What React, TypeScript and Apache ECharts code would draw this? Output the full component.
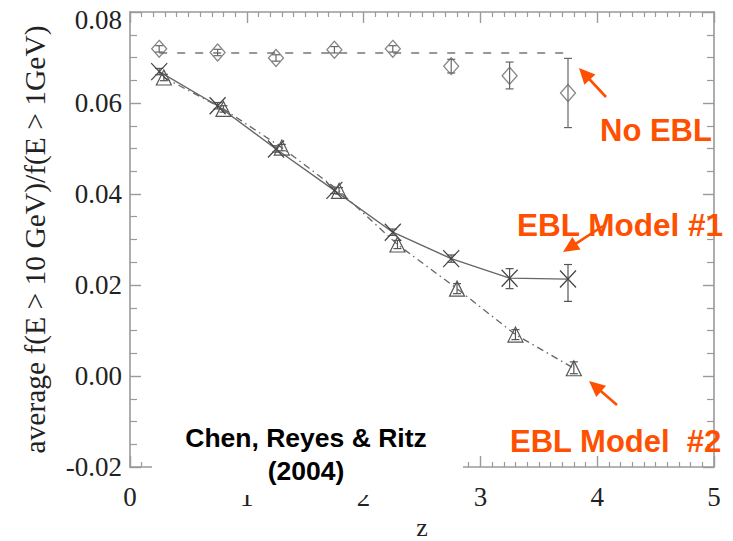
import React, { useEffect, useRef } from "react";
import * as echarts from "echarts";

// ---- data ----
const zPts = [0.25, 0.75, 1.25, 1.75, 2.25, 2.75, 3.25, 3.75];
const zTri = [0.29, 0.8, 1.3, 1.79, 2.29, 2.8, 3.3, 3.8];

const noEbl = [0.0719, 0.0711, 0.0699, 0.0717, 0.0719, 0.0681, 0.066, 0.0622];
const noEblLo = [0.0712, 0.0704, 0.0692, 0.071, 0.0712, 0.0666, 0.0631, 0.0546];
const noEblHi = [0.0726, 0.0718, 0.0706, 0.0724, 0.0726, 0.0696, 0.069, 0.0698];
const noEblFit = 0.071;

const model1 = [0.0669, 0.0594, 0.0499, 0.0408, 0.0316, 0.0258, 0.0215, 0.0213];
const model1Lo = [0.0662, 0.0587, 0.0492, 0.0401, 0.0309, 0.025, 0.0192, 0.0164];
const model1Hi = [0.0676, 0.0601, 0.0506, 0.0415, 0.0323, 0.0266, 0.0236, 0.0245];

const model2 = [0.0656, 0.0587, 0.0502, 0.0407, 0.0289, 0.0192, 0.0091, 0.0017];
const model2Lo = [0.0649, 0.058, 0.0495, 0.04, 0.028, 0.0181, 0.008, 0.0005];
const model2Hi = [0.0663, 0.0594, 0.0509, 0.0414, 0.0298, 0.0203, 0.0102, 0.0031];

const xTicks = { min: 0, max: 5, interval: 1 };
const yTicks = { min: -0.02, max: 0.08, interval: 0.02 };

const yAxisTitle = "average f(E > 10 GeV)/f(E > 1GeV)";
const xAxisTitle = "z";
const creditText = "Chen, Reyes & Ritz\n(2004)";
const labelNoEbl = "No EBL";
const labelModel1 = "EBL Model #1";
const labelModel2 = "EBL Model  #2";

const SERIF = "'Liberation Serif', 'Times New Roman', serif";
const SANS = "'Liberation Sans', Arial, Helvetica, sans-serif";
const AXIS_GRAY = "#9a9a9a";
const ORANGE = "#fe5000";

function arrow(tail: number[], tip: number[]) {
  const dx = tip[0] - tail[0];
  const dy = tip[1] - tail[1];
  const len = Math.sqrt(dx * dx + dy * dy);
  const ux = dx / len;
  const uy = dy / len;
  const headLen = 16;
  const half = 7.5;
  const bx = tip[0] - ux * headLen;
  const by = tip[1] - uy * headLen;
  const px = -uy;
  const py = ux;
  return [
    {
      type: "line",
      z: 120,
      shape: { x1: tail[0], y1: tail[1], x2: bx + ux * 2, y2: by + uy * 2 },
      style: { stroke: ORANGE, lineWidth: 2.6 },
    },
    {
      type: "polygon",
      z: 120,
      shape: {
        points: [
          [tip[0], tip[1]],
          [bx + px * half, by + py * half],
          [bx - px * half, by - py * half],
        ],
      },
      style: { fill: ORANGE },
    },
  ];
}

function errorBars(xs: number[], lo: number[], hi: number[], color: string) {
  return {
    type: "custom",
    silent: true,
    z: 3,
    data: xs.map((x, i) => [x, lo[i], hi[i]]),
    encode: { x: 0, y: [1, 2] },
    renderItem: (params: any, api: any) => {
      const x = api.value(0);
      const p1 = api.coord([x, api.value(1)]);
      const p2 = api.coord([x, api.value(2)]);
      const cap = 4;
      const st = { stroke: color, lineWidth: 1.2 };
      return {
        type: "group",
        children: [
          { type: "line", shape: { x1: p1[0], y1: p1[1], x2: p2[0], y2: p2[1] }, style: st },
          { type: "line", shape: { x1: p1[0] - cap, y1: p1[1], x2: p1[0] + cap, y2: p1[1] }, style: st },
          { type: "line", shape: { x1: p2[0] - cap, y1: p2[1], x2: p2[0] + cap, y2: p2[1] }, style: st },
        ],
      };
    },
  };
}

function axisCommon(isX: boolean) {
  const t = isX ? xTicks : yTicks;
  return {
    type: "value",
    min: t.min,
    max: t.max,
    interval: t.interval,
    splitLine: { show: false },
    axisLine: { show: true, onZero: false, lineStyle: { color: AXIS_GRAY, width: 1.6 } },
    axisTick: { show: true, inside: true, length: 11, lineStyle: { color: AXIS_GRAY, width: 1.4 } },
    minorTick: {
      show: true,
      splitNumber: isX ? 10 : 4,
      length: isX ? 5 : 7,
      lineStyle: { color: AXIS_GRAY, width: 1.2 },
    },
  };
}

export default function App() {
  const ref = useRef<HTMLDivElement>(null);

  useEffect(() => {
    if (!ref.current) return;
    const chart = echarts.init(ref.current, null, { renderer: "svg" });

    const tickFont = { fontFamily: SERIF, fontSize: 27, color: "#222" };

    const option: any = {
      animation: false,
      backgroundColor: "#ffffff",
      grid: {
        left: 130,
        right: 19,
        top: 12,
        bottom: 74,
        containLabel: false,
        outerBoundsMode: "none",
      },
      xAxis: [
        {
          ...axisCommon(true),
          position: "bottom",
          name: xAxisTitle,
          nameLocation: "middle",
          nameGap: 57,
          nameTextStyle: {
            fontFamily: SERIF,
            fontSize: 26,
            lineHeight: 20,
            verticalAlign: "middle",
            color: "#222",
          },
          axisLabel: { ...tickFont, margin: 16 },
        },
        {
          ...axisCommon(true),
          position: "top",
          axisLabel: { show: false },
        },
      ],
      yAxis: [
        {
          ...axisCommon(false),
          position: "left",
          name: yAxisTitle,
          nameLocation: "middle",
          nameRotate: 90,
          nameGap: 80,
          nameTextStyle: { fontFamily: SERIF, fontSize: 29.5, color: "#222" },
          axisLabel: {
            ...tickFont,
            margin: 8,
            formatter: (v: number) => {
              const s = Math.abs(v) < 1e-9 ? "0.00" : v.toFixed(2);
              return Math.abs(v - yTicks.max) < 1e-9 ? "{top|" + s + "}" : s;
            },
            rich: {
              top: { ...tickFont, padding: [16, 0, 0, 0] },
            },
          },
        },
        {
          ...axisCommon(false),
          position: "right",
          axisLabel: { show: false },
        },
      ],
      series: [
        {
          name: "fit",
          type: "line",
          data: [
            [zPts[0], noEblFit],
            [zPts[zPts.length - 1], noEblFit],
          ],
          symbol: "none",
          lineStyle: { color: "#777", width: 1.4, type: [8, 10] },
          z: 2,
        },
        errorBars(zPts, noEblLo, noEblHi, "#666"),
        {
          name: labelNoEbl,
          type: "scatter",
          data: zPts.map((x, i) => [x, noEbl[i]]),
          symbol: "diamond",
          symbolSize: [15, 17],
          itemStyle: { color: "rgba(0,0,0,0)", borderColor: "#666", borderWidth: 1.3 },
          z: 4,
        },
        errorBars(zPts, model1Lo, model1Hi, "#555"),
        {
          name: labelModel1,
          type: "line",
          data: zPts.map((x, i) => [x, model1[i]]),
          symbol: "path://M0,0L10,11M10,0L0,11",
          symbolSize: [16, 17],
          showSymbol: true,
          lineStyle: { color: "#666", width: 1.4 },
          itemStyle: { color: "rgba(0,0,0,0)", borderColor: "#444", borderWidth: 1.3 },
          z: 4,
        },
        errorBars(zTri, model2Lo, model2Hi, "#555"),
        {
          name: labelModel2,
          type: "line",
          data: zTri.map((x, i) => [x, model2[i]]),
          symbol: "triangle",
          symbolSize: [15, 15],
          showSymbol: true,
          lineStyle: { color: "#666", width: 1.3, type: [7, 4, 1.5, 4] },
          itemStyle: { color: "rgba(0,0,0,0)", borderColor: "#555", borderWidth: 1.2 },
          z: 4,
        },
      ],
      graphic: [
        {
          type: "rect",
          z: 100,
          shape: { x: 152, y: 415, width: 311, height: 80 },
          style: { fill: "#ffffff" },
        },
        {
          type: "text",
          z: 110,
          x: 306,
          y: 454,
          style: {
            text: creditText,
            fontFamily: SANS,
            fontWeight: "bold",
            fontSize: 26.5,
            lineHeight: 33,
            fill: "#000",
            align: "center",
            verticalAlign: "middle",
          },
        },
        {
          type: "text",
          z: 110,
          x: 600,
          y: 130,
          style: {
            text: labelNoEbl,
            fontFamily: SANS,
            fontWeight: "bold",
            fontSize: 31,
            fill: ORANGE,
            align: "left",
            verticalAlign: "middle",
          },
        },
        {
          type: "text",
          z: 110,
          x: 517,
          y: 225,
          style: {
            text: labelModel1,
            fontFamily: SANS,
            fontWeight: "bold",
            fontSize: 31.5,
            fill: ORANGE,
            align: "left",
            verticalAlign: "middle",
          },
        },
        {
          type: "text",
          z: 110,
          x: 510,
          y: 441,
          style: {
            text: labelModel2,
            fontFamily: SANS,
            fontWeight: "bold",
            fontSize: 31,
            fill: ORANGE,
            align: "left",
            verticalAlign: "middle",
          },
        },
        ...arrow([606, 97], [579, 68]),
        ...arrow([603, 226], [563, 252]),
        ...arrow([617, 405], [589, 381]),
      ],
    };

    chart.setOption(option);
    return () => chart.dispose();
  }, []);

  return (
    <div
      ref={ref}
      style={{ position: "fixed", left: 0, top: 0, width: 733, height: 541, background: "#fff" }}
    />
  );
}
